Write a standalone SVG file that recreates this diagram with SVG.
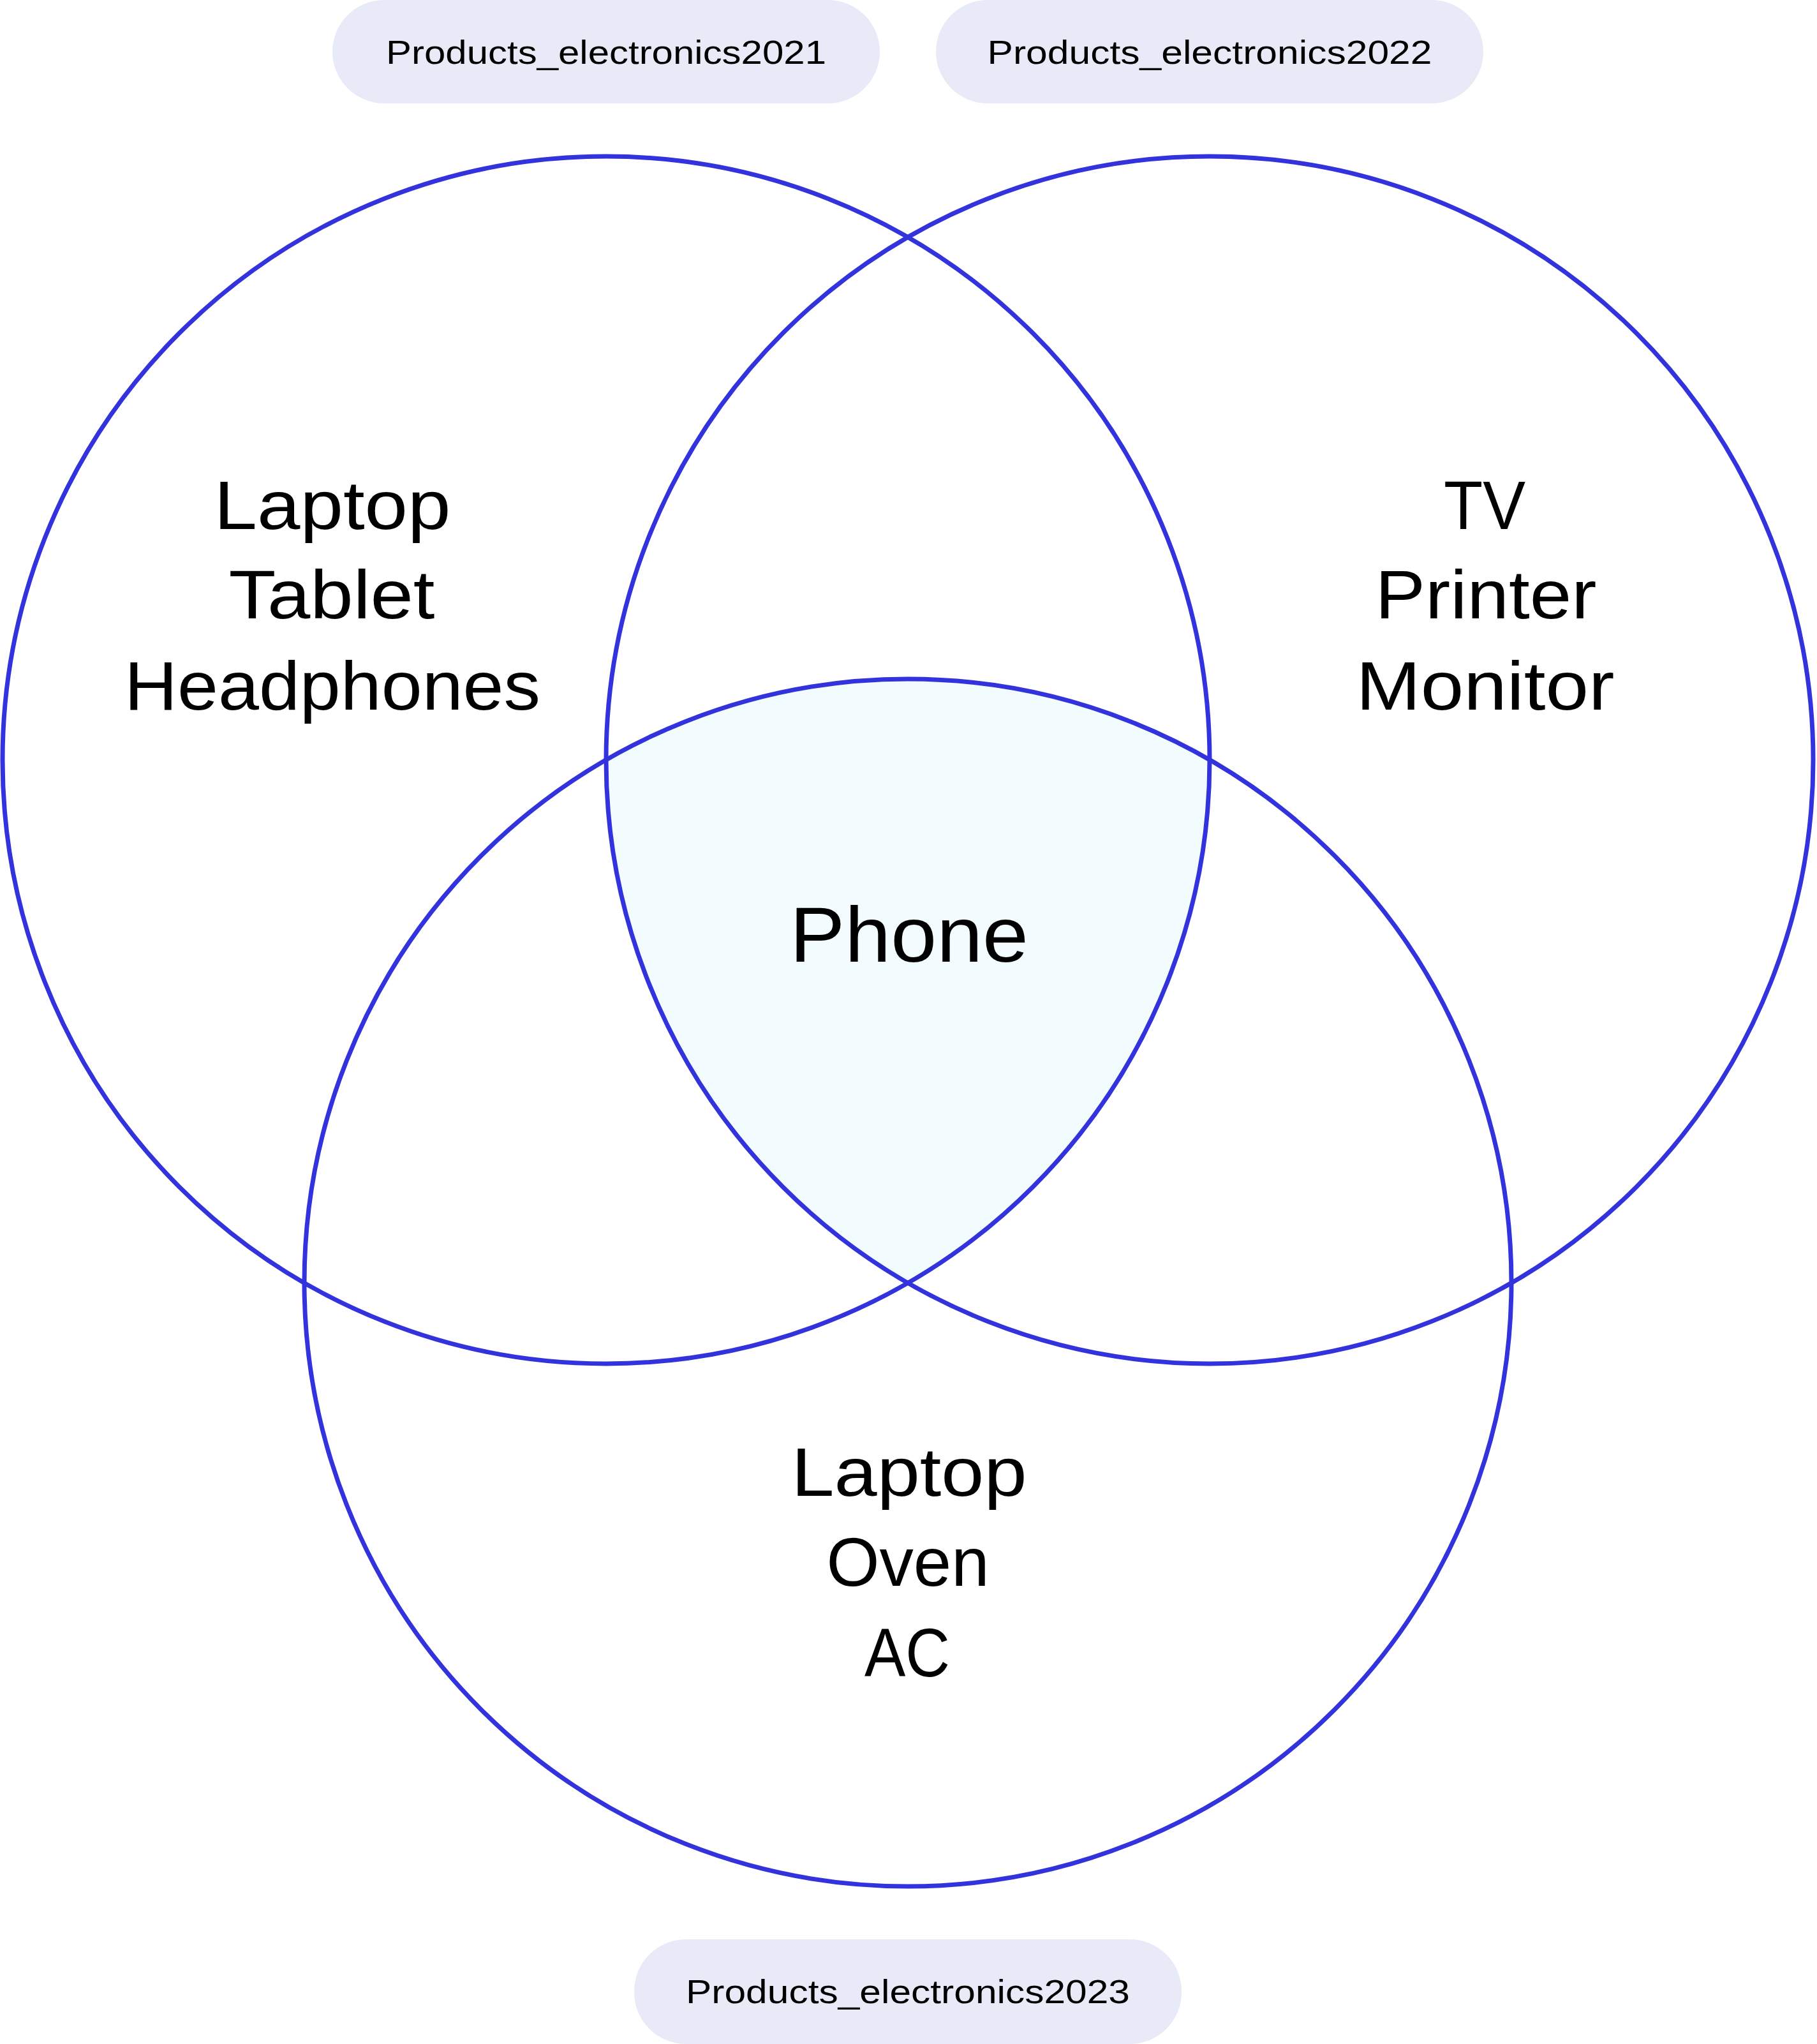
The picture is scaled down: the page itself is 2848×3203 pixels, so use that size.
<svg xmlns="http://www.w3.org/2000/svg" width="2848" height="3203" viewBox="0 0 2848 3203">
<style>
.ring{fill:none;stroke:#3333DD;stroke-width:7}
.pill{fill:#E8EAF8}
.pt{font-family:"Liberation Sans",Arial,sans-serif;font-size:52px;fill:#000;text-anchor:middle}
.lb{font-family:"Liberation Sans",Arial,sans-serif;font-size:108px;fill:#000;text-anchor:middle}
.ph{font-family:"Liberation Sans",Arial,sans-serif;font-size:123px;fill:#000;text-anchor:middle}
</style>
<rect width="2848" height="3203" fill="#FFFFFF"/>
<g id="center-region">
<path d="M 950 1191 A 946 946 0 0 1 1896 1191 A 946 946 0 0 1 1423 2010 A 946 946 0 0 1 950 1191 Z" fill="#F2FBFE"/>
<text class="ph" x="1425" y="1507" textLength="374" lengthAdjust="spacingAndGlyphs">Phone</text>
</g>
<g id="set-2021">
<circle class="ring" cx="950" cy="1191" r="946"/>
<text class="lb" x="521" y="829" textLength="371" lengthAdjust="spacingAndGlyphs">Laptop</text>
<text class="lb" x="520" y="969" textLength="323" lengthAdjust="spacingAndGlyphs">Tablet</text>
<text class="lb" x="521" y="1112" textLength="652" lengthAdjust="spacingAndGlyphs">Headphones</text>
</g>
<g id="set-2022">
<circle class="ring" cx="1896" cy="1191" r="946"/>
<text class="lb" x="2327" y="829" textLength="128" lengthAdjust="spacingAndGlyphs">TV</text>
<text class="lb" x="2329" y="969" textLength="347" lengthAdjust="spacingAndGlyphs">Printer</text>
<text class="lb" x="2328" y="1112" textLength="405" lengthAdjust="spacingAndGlyphs">Monitor</text>
</g>
<g id="set-2023">
<circle class="ring" cx="1423" cy="2010" r="946"/>
<text class="lb" x="1425" y="2344" textLength="369" lengthAdjust="spacingAndGlyphs">Laptop</text>
<text class="lb" x="1423" y="2485" textLength="255" lengthAdjust="spacingAndGlyphs">Oven</text>
<text class="lb" x="1422" y="2627" textLength="134" lengthAdjust="spacingAndGlyphs">AC</text>
</g>
<g id="label-2021">
<rect class="pill" x="521" y="0" width="858" height="162" rx="81" ry="81"/>
<text class="pt" x="950" y="100" textLength="690" lengthAdjust="spacingAndGlyphs">Products_electronics2021</text>
</g>
<g id="label-2022">
<rect class="pill" x="1467" y="0" width="858" height="162" rx="81" ry="81"/>
<text class="pt" x="1896" y="100" textLength="697" lengthAdjust="spacingAndGlyphs">Products_electronics2022</text>
</g>
<g id="label-2023">
<rect class="pill" x="994" y="3039" width="858" height="164" rx="81" ry="81"/>
<text class="pt" x="1423" y="3139" textLength="696" lengthAdjust="spacingAndGlyphs">Products_electronics2023</text>
</g>
<g id="connectors"></g>
</svg>
